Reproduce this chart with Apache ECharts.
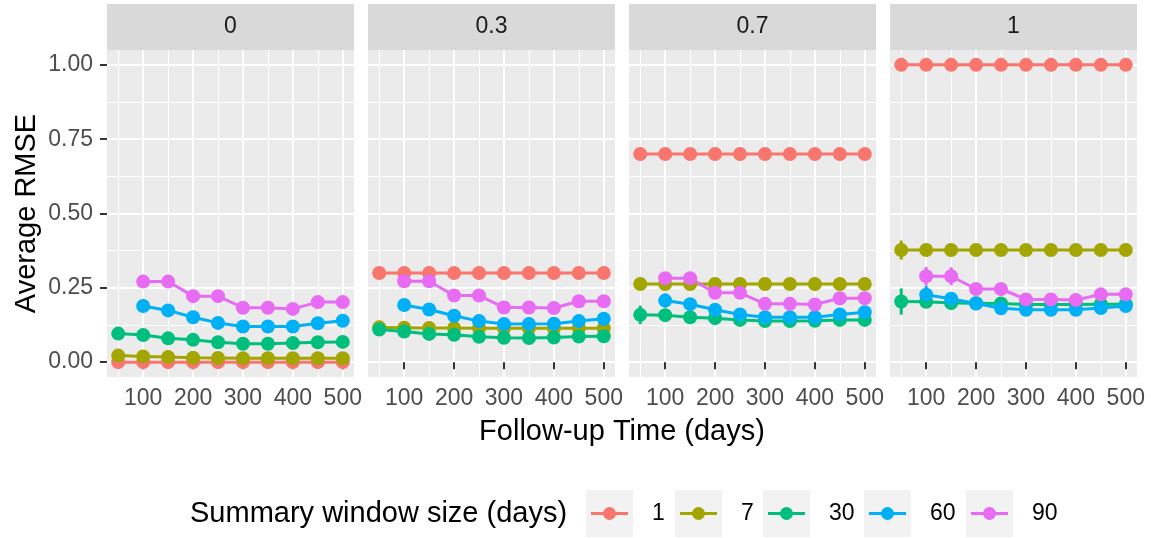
<!DOCTYPE html>
<html>
<head>
<meta charset="utf-8">
<title>Average RMSE by follow-up time</title>
<script src="https://cdn.jsdelivr.net/npm/echarts@6/dist/echarts.min.js"></script>
<style>
  html, body { margin: 0; padding: 0; background: #ffffff; }
  #chart { width: 1151px; height: 538px; }
</style>
</head>
<body>
<div id="chart"></div>
<script>
// ---- data ----
const followUpDays = [50, 100, 150, 200, 250, 300, 350, 400, 450, 500];
const facetLabels = ['0', '0.3', '0.7', '1'];
const windowSizes = ['1', '7', '30', '60', '90'];
const xTicks = [100, 200, 300, 400, 500];
const xMinorTicks = [50, 150, 250, 350, 450];
const yTicks = [0, 0.25, 0.5, 0.75, 1];
const yMinorTicks = [0.125, 0.375, 0.625, 0.875];

// facet 0
const rmse_0_w1  = [0, 0, 0, 0, 0, 0, 0, 0, 0, 0];
const rmse_0_w7  = [0.022, 0.019, 0.017, 0.015, 0.014, 0.013, 0.013, 0.013, 0.013, 0.013];
const rmse_0_w30 = [0.096, 0.091, 0.080, 0.075, 0.067, 0.062, 0.062, 0.064, 0.067, 0.068];
const rmse_0_w60 = [null, 0.189, 0.174, 0.151, 0.132, 0.120, 0.120, 0.120, 0.131, 0.139];
const rmse_0_w90 = [null, 0.271, 0.271, 0.222, 0.222, 0.183, 0.183, 0.179, 0.202, 0.202];

// facet 0.3
const rmse_03_w1  = [0.3, 0.3, 0.3, 0.3, 0.3, 0.3, 0.3, 0.3, 0.3, 0.3];
const rmse_03_w7  = [0.117, 0.116, 0.115, 0.115, 0.114, 0.114, 0.114, 0.114, 0.114, 0.114];
const rmse_03_w30 = [0.110, 0.103, 0.095, 0.092, 0.085, 0.082, 0.081, 0.083, 0.086, 0.087];
const rmse_03_w60 = [null, 0.192, 0.177, 0.156, 0.138, 0.128, 0.128, 0.129, 0.138, 0.146];
const rmse_03_w90 = [null, 0.272, 0.272, 0.224, 0.224, 0.184, 0.184, 0.182, 0.205, 0.205];

// facet 0.7
const rmse_07_w1  = [0.7, 0.7, 0.7, 0.7, 0.7, 0.7, 0.7, 0.7, 0.7, 0.7];
const rmse_07_w7  = [0.263, 0.263, 0.263, 0.263, 0.263, 0.263, 0.263, 0.263, 0.263, 0.263];
const rmse_07_w30 = [0.159, 0.158, 0.151, 0.148, 0.142, 0.138, 0.138, 0.139, 0.142, 0.142];
const rmse_07_w60 = [null, 0.207, 0.195, 0.176, 0.160, 0.151, 0.151, 0.151, 0.160, 0.168];
const rmse_07_w90 = [null, 0.282, 0.282, 0.233, 0.233, 0.196, 0.196, 0.194, 0.215, 0.215];

// facet 1
const rmse_1_w1  = [1, 1, 1, 1, 1, 1, 1, 1, 1, 1];
const rmse_1_w7  = [0.377, 0.377, 0.377, 0.377, 0.377, 0.377, 0.377, 0.377, 0.377, 0.377];
const rmse_1_w30 = [0.204, 0.203, 0.199, 0.198, 0.197, 0.194, 0.194, 0.194, 0.195, 0.195];
const rmse_1_w60 = [null, 0.227, 0.213, 0.197, 0.181, 0.176, 0.176, 0.176, 0.182, 0.189];
const rmse_1_w90 = [null, 0.289, 0.289, 0.246, 0.246, 0.211, 0.211, 0.209, 0.228, 0.228];

// error bar half-widths (0 = too small to see)
const zeros = [0, 0, 0, 0, 0, 0, 0, 0, 0, 0];
const err_07_w30 = [0.031, 0.010, 0.006, 0, 0, 0, 0, 0, 0, 0];
const err_07_w60 = [null, 0.024, 0.010, 0, 0, 0, 0, 0, 0, 0];
const err_07_w90 = [null, 0.020, 0.020, 0, 0, 0, 0, 0, 0, 0];
const err_1_w7   = [0.032, 0, 0, 0, 0, 0, 0, 0, 0, 0];
const err_1_w30  = [0.044, 0.020, 0.012, 0, 0, 0, 0, 0, 0, 0];
const err_1_w60  = [null, 0.030, 0.015, 0, 0, 0, 0, 0, 0, 0];
const err_1_w90  = [null, 0.031, 0.030, 0, 0, 0, 0, 0, 0, 0];

const facetValues = [
  [rmse_0_w1, rmse_0_w7, rmse_0_w30, rmse_0_w60, rmse_0_w90],
  [rmse_03_w1, rmse_03_w7, rmse_03_w30, rmse_03_w60, rmse_03_w90],
  [rmse_07_w1, rmse_07_w7, rmse_07_w30, rmse_07_w60, rmse_07_w90],
  [rmse_1_w1, rmse_1_w7, rmse_1_w30, rmse_1_w60, rmse_1_w90]
];
const facetErrors = [
  [zeros, zeros, zeros, zeros, zeros],
  [zeros, zeros, zeros, zeros, zeros],
  [zeros, zeros, err_07_w30, err_07_w60, err_07_w90],
  [zeros, err_1_w7, err_1_w30, err_1_w60, err_1_w90]
];

// ---- styling / layout ----
const colors = ['#F8766D', '#A3A500', '#00BF7D', '#00B0F6', '#E76BF3'];
const FONT = '"Liberation Sans", Arial, Helvetica, sans-serif';
const panelLeft = 107, panelStep = 261, panelWidth = 247;
const panelTop = 50, panelHeight = 327;
const stripTop = 4;
const xRange = [27.5, 522.5];
const yRange = [-0.05, 1.05];
const lineW = 3;
const pointSize = 14;

const chart = echarts.init(document.getElementById('chart'), null, { renderer: 'canvas' });

const grids = [], xAxes = [], yAxes = [], series = [], graphics = [];

facetLabels.forEach((label, i) => {
  const left = panelLeft + panelStep * i;
  grids.push({
    left: left, top: panelTop, width: panelWidth, height: panelHeight,
    show: true, backgroundColor: '#EBEBEB', borderWidth: 0, containLabel: false
  });

  // major x axis: labels, ticks, major grid lines
  xAxes.push({
    type: 'value', gridIndex: i, min: xRange[0], max: xRange[1],
    axisLine: { show: false },
    axisTick: { show: true, customValues: xTicks, length: 7, lineStyle: { color: '#333333', width: 2 } },
    axisLabel: { show: true, customValues: xTicks, fontSize: 23, color: '#4D4D4D', fontFamily: FONT, margin: 10 },
    splitLine: { show: true, lineStyle: { color: '#FFFFFF', width: 2 } },
    z: 1
  });
  // minor x grid lines
  xAxes.push({
    type: 'value', gridIndex: i, min: xRange[0], max: xRange[1],
    axisLine: { show: false },
    axisTick: { show: false, customValues: xMinorTicks },
    axisLabel: { show: false },
    splitLine: { show: true, lineStyle: { color: '#FFFFFF', width: 1 } },
    z: 0
  });
  // major y axis
  yAxes.push({
    type: 'value', gridIndex: i, min: yRange[0], max: yRange[1],
    axisLine: { show: false },
    axisTick: { show: i === 0, customValues: yTicks, length: 7, lineStyle: { color: '#333333', width: 2 } },
    axisLabel: {
      show: i === 0, customValues: yTicks, fontSize: 23, color: '#4D4D4D', fontFamily: FONT, margin: 14,
      formatter: v => v.toFixed(2)
    },
    splitLine: { show: true, lineStyle: { color: '#FFFFFF', width: 2 } },
    z: 1
  });
  // minor y grid lines
  yAxes.push({
    type: 'value', gridIndex: i, min: yRange[0], max: yRange[1],
    axisLine: { show: false },
    axisTick: { show: false, customValues: yMinorTicks },
    axisLabel: { show: false },
    splitLine: { show: true, lineStyle: { color: '#FFFFFF', width: 1 } },
    z: 0
  });

  // facet strip
  graphics.push({
    type: 'rect', left: left, top: stripTop,
    shape: { width: panelWidth, height: panelTop - stripTop },
    style: { fill: '#D9D9D9' }, silent: true
  });
  graphics.push({
    type: 'text', x: left + panelWidth / 2, y: stripTop + (panelTop - stripTop) / 2,
    style: { text: label, fill: '#1A1A1A', font: '23px ' + FONT, textAlign: 'center', textVerticalAlign: 'middle' },
    silent: true
  });

  const axisIdx = 2 * i;
  const values = facetValues[i];
  const errors = facetErrors[i];

  // lines
  windowSizes.forEach((w, s) => {
    const pts = [];
    followUpDays.forEach((d, k) => { if (values[s][k] !== null) pts.push([d, values[s][k]]); });
    series.push({
      type: 'line', name: w, xAxisIndex: axisIdx, yAxisIndex: axisIdx,
      data: pts, showSymbol: false, silent: true,
      lineStyle: { color: colors[s], width: lineW }, z: 2
    });
  });
  // error bars
  windowSizes.forEach((w, s) => {
    const bars = [];
    followUpDays.forEach((d, k) => {
      const e = errors[s][k];
      if (values[s][k] !== null && e) bars.push([d, values[s][k] - e, values[s][k] + e]);
    });
    if (!bars.length) return;
    series.push({
      type: 'custom', name: w + ' err', xAxisIndex: axisIdx, yAxisIndex: axisIdx,
      data: bars, silent: true, z: 3,
      renderItem: (params, api) => {
        const lo = api.coord([api.value(0), api.value(1)]);
        const hi = api.coord([api.value(0), api.value(2)]);
        return {
          type: 'line',
          shape: { x1: lo[0], y1: lo[1], x2: hi[0], y2: hi[1] },
          style: { stroke: colors[s], lineWidth: lineW }
        };
      }
    });
  });
  // points
  windowSizes.forEach((w, s) => {
    const pts = [];
    followUpDays.forEach((d, k) => { if (values[s][k] !== null) pts.push([d, values[s][k]]); });
    series.push({
      type: 'scatter', name: w, xAxisIndex: axisIdx, yAxisIndex: axisIdx,
      data: pts, symbol: 'circle', symbolSize: pointSize, silent: true,
      itemStyle: { color: colors[s], opacity: 1 }, z: 4
    });
  });
});

// axis titles
graphics.push({
  type: 'text', x: panelLeft + (panelStep * 3 + panelWidth) / 2, y: 432,
  style: { text: 'Follow-up Time (days)', fill: '#000000', font: '29px ' + FONT, textAlign: 'center', textVerticalAlign: 'middle' },
  silent: true
});
graphics.push({
  type: 'text', x: 27, y: panelTop + panelHeight / 2, rotation: Math.PI / 2,
  style: { text: 'Average RMSE', fill: '#000000', font: '29px ' + FONT, textAlign: 'center', textVerticalAlign: 'middle' },
  silent: true
});

// legend
const legendCenterY = 513.5;
const legendBoxLeft = [586, 675, 763, 864, 966];
const keySize = 47;
graphics.push({
  type: 'text', x: 190, y: legendCenterY,
  style: { text: 'Summary window size (days)', fill: '#000000', font: '29px ' + FONT, textAlign: 'left', textVerticalAlign: 'middle' },
  silent: true
});
windowSizes.forEach((w, s) => {
  const bx = legendBoxLeft[s];
  graphics.push({
    type: 'rect', left: bx, top: legendCenterY - keySize / 2,
    shape: { width: keySize, height: keySize }, style: { fill: '#F2F2F2' }, silent: true
  });
  graphics.push({
    type: 'line', shape: { x1: bx + 5, y1: legendCenterY, x2: bx + keySize - 5, y2: legendCenterY },
    style: { stroke: colors[s], lineWidth: lineW }, silent: true
  });
  graphics.push({
    type: 'circle', shape: { cx: bx + keySize / 2, cy: legendCenterY, r: 6.5 },
    style: { fill: colors[s] }, silent: true
  });
  graphics.push({
    type: 'text', x: bx + 66, y: legendCenterY,
    style: { text: w, fill: '#000000', font: '23px ' + FONT, textAlign: 'left', textVerticalAlign: 'middle' },
    silent: true
  });
});

chart.setOption({
  animation: false,
  backgroundColor: '#FFFFFF',
  grid: grids,
  xAxis: xAxes,
  yAxis: yAxes,
  series: series,
  graphic: graphics
});
</script>
</body>
</html>
